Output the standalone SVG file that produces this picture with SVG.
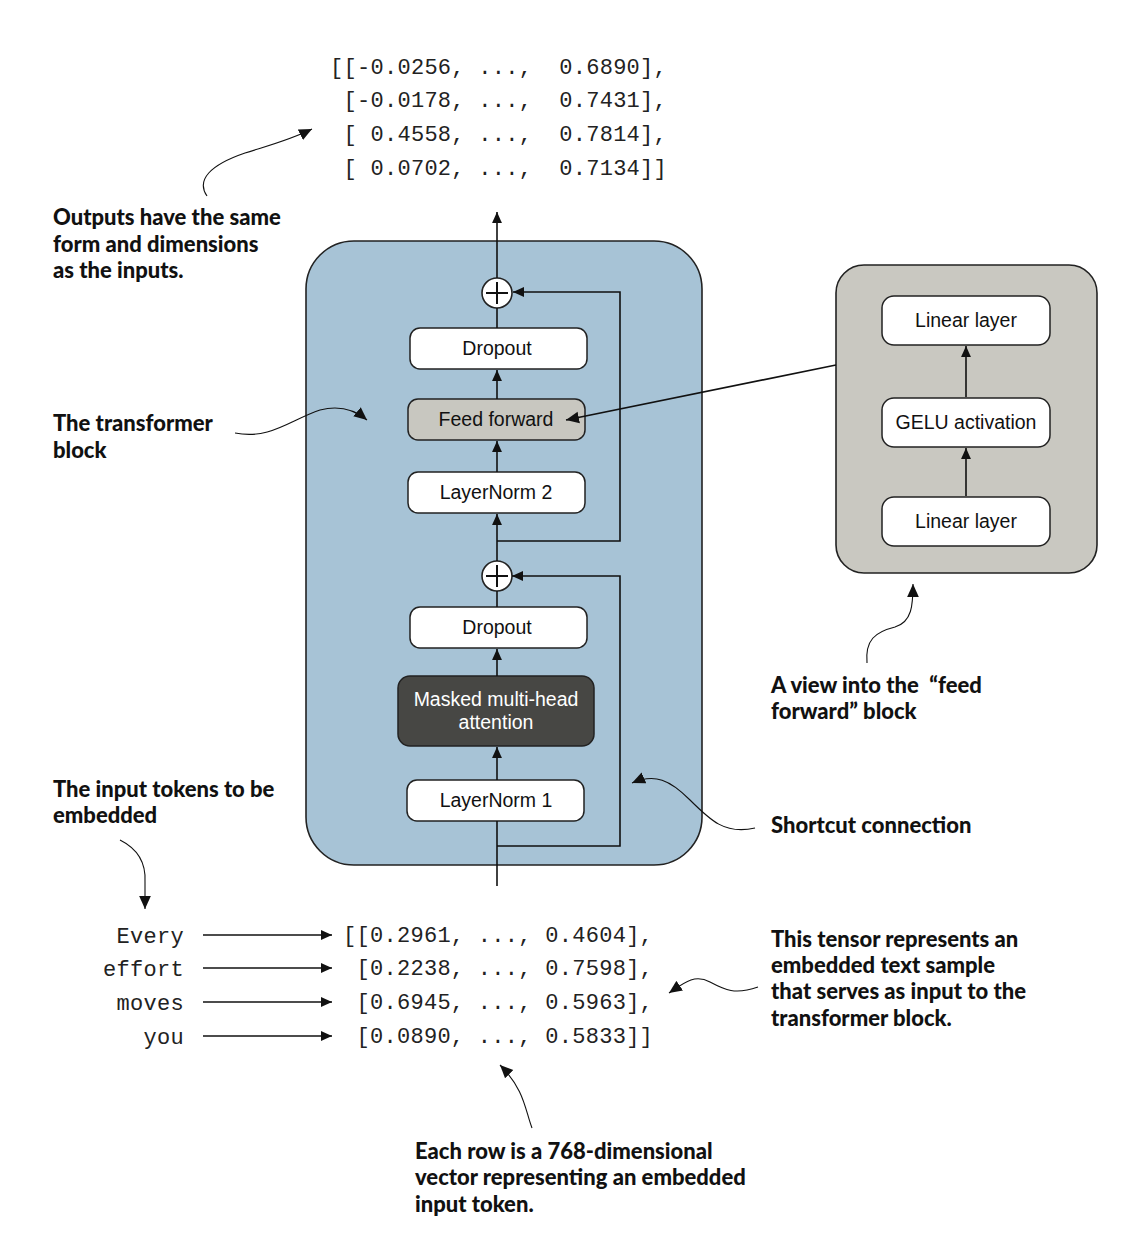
<svg xmlns="http://www.w3.org/2000/svg" width="1130" height="1244" viewBox="0 0 1130 1244">
<defs>
<marker id="ah" viewBox="0 0 10 10" refX="10" refY="5" markerWidth="11" markerHeight="11" markerUnits="userSpaceOnUse" orient="auto">
<path d="M0,0.5 L10,5 L0,9.5 Z" fill="#111"/>
</marker>
<marker id="ahs" viewBox="0 0 10 10" refX="10" refY="5" markerWidth="13" markerHeight="13" markerUnits="userSpaceOnUse" orient="auto">
<path d="M0,0.5 L10,5 L0,9.5 Z" fill="#111"/>
</marker>
</defs>
<style>
.box{fill:#fff;stroke:#222;stroke-width:1.5}
.lbl{font-family:"Liberation Sans",Arial,sans-serif;font-size:19.5px;fill:#111;text-anchor:middle}
.ann{font-family:Lato,"Open Sans",sans-serif;font-weight:900;font-size:22px;fill:#111}
.mono{font-family:"Liberation Mono","Courier New",monospace;font-size:22px;fill:#222;white-space:pre;letter-spacing:0.28px}
.ln{fill:none;stroke:#111;stroke-width:1.6}
.cv{fill:none;stroke:#111;stroke-width:1.1}
</style>
<rect width="1130" height="1244" fill="#fff"/>

<!-- output tensor -->
<g id="output-tensor">
<text class="mono" x="330" y="74" xml:space="preserve">[[-0.0256, ...,  0.6890],</text>
<text class="mono" x="330" y="107" xml:space="preserve"> [-0.0178, ...,  0.7431],</text>
<text class="mono" x="330" y="141" xml:space="preserve"> [ 0.4558, ...,  0.7814],</text>
<text class="mono" x="330" y="175" xml:space="preserve"> [ 0.0702, ...,  0.7134]]</text>
</g>

<!-- transformer block -->
<g id="transformer-block">
<rect x="306" y="241" width="396" height="624" rx="48" fill="#a7c3d6" stroke="#222" stroke-width="1.6"/>
</g>

<!-- feed forward detail -->
<g id="ff-detail">
<rect x="836" y="265" width="261" height="308" rx="28" fill="#c9c8c1" stroke="#222" stroke-width="1.6"/>
</g>

<g id="add-1">
<circle cx="497" cy="293" r="15" fill="#fff" stroke="#222" stroke-width="1.6"/>
<path d="M486,293 H508 M497,282 V304" stroke="#111" stroke-width="2"/>
</g>
<g id="dropout-1">
<rect class="box" x="410" y="328" width="177" height="41" rx="10"/>
<text class="lbl" x="497" y="355">Dropout</text>
</g>
<g id="feed-forward">
<rect x="408" y="399" width="177" height="41" rx="10" fill="#c8c7c0" stroke="#222" stroke-width="1.5"/>
<text class="lbl" x="496" y="426">Feed forward</text>
</g>
<g id="layernorm-2">
<rect class="box" x="408" y="472" width="177" height="41" rx="10"/>
<text class="lbl" x="496" y="499">LayerNorm 2</text>
</g>
<g id="add-2">
<circle cx="497" cy="576" r="15" fill="#fff" stroke="#222" stroke-width="1.6"/>
<path d="M486,576 H508 M497,565 V587" stroke="#111" stroke-width="2"/>
</g>
<g id="dropout-2">
<rect class="box" x="410" y="607" width="177" height="41" rx="10"/>
<text class="lbl" x="497" y="634">Dropout</text>
</g>
<g id="mha">
<rect x="398" y="676" width="196" height="70" rx="12" fill="#474744" stroke="#222" stroke-width="1.5"/>
<text class="lbl" x="496" y="706" style="fill:#fff">Masked multi-head</text>
<text class="lbl" x="496" y="729" style="fill:#fff">attention</text>
</g>
<g id="layernorm-1">
<rect class="box" x="407" y="780" width="177" height="41" rx="10"/>
<text class="lbl" x="496" y="807">LayerNorm 1</text>
</g>
<g id="linear-top">
<rect class="box" x="882" y="296" width="168" height="49" rx="12"/>
<text class="lbl" x="966" y="327">Linear layer</text>
</g>
<g id="gelu">
<rect class="box" x="882" y="398" width="168" height="49" rx="12"/>
<text class="lbl" x="966" y="429">GELU activation</text>
</g>
<g id="linear-bottom">
<rect class="box" x="882" y="497" width="168" height="49" rx="12"/>
<text class="lbl" x="966" y="528">Linear layer</text>
</g>

<!-- input tokens and tensor -->
<g id="input-tokens">
<text class="mono" x="184" y="943" text-anchor="end">Every</text>
<text class="mono" x="184" y="976" text-anchor="end">effort</text>
<text class="mono" x="184" y="1010" text-anchor="end">moves</text>
<text class="mono" x="184" y="1044" text-anchor="end">you</text>
</g>
<g id="input-tensor">
<text class="mono" x="343" y="942" xml:space="preserve">[[0.2961, ..., 0.4604],</text>
<text class="mono" x="343" y="975" xml:space="preserve"> [0.2238, ..., 0.7598],</text>
<text class="mono" x="343" y="1009" xml:space="preserve"> [0.6945, ..., 0.5963],</text>
<text class="mono" x="343" y="1043" xml:space="preserve"> [0.0890, ..., 0.5833]]</text>
</g>

<!-- connectors -->
<g id="connectors">
<line class="ln" x1="497" y1="278" x2="497" y2="212" marker-end="url(#ah)"/>
<line class="ln" x1="497" y1="328" x2="497" y2="308"/>
<line class="ln" x1="497" y1="399" x2="497" y2="370" marker-end="url(#ah)"/>
<line class="ln" x1="497" y1="472" x2="497" y2="441" marker-end="url(#ah)"/>
<line class="ln" x1="497" y1="561" x2="497" y2="514" marker-end="url(#ah)"/>
<line class="ln" x1="497" y1="607" x2="497" y2="591"/>
<line class="ln" x1="497" y1="676" x2="497" y2="649" marker-end="url(#ah)"/>
<line class="ln" x1="497" y1="780" x2="497" y2="747" marker-end="url(#ah)"/>
<line class="ln" x1="497" y1="886" x2="497" y2="821"/>
<polyline class="ln" points="497,541 620,541 620,292 513,292" marker-end="url(#ah)"/>
<polyline class="ln" points="497,846 620,846 620,576 512,576" marker-end="url(#ah)"/>
<line class="ln" x1="836" y1="365" x2="566" y2="420" marker-end="url(#ahs)"/>
<line class="ln" x1="966" y1="397" x2="966" y2="346" marker-end="url(#ah)"/>
<line class="ln" x1="966" y1="496" x2="966" y2="448" marker-end="url(#ah)"/>
<line class="ln" x1="203" y1="935" x2="332" y2="935" marker-end="url(#ah)"/>
<line class="ln" x1="203" y1="968" x2="332" y2="968" marker-end="url(#ah)"/>
<line class="ln" x1="203" y1="1002" x2="332" y2="1002" marker-end="url(#ah)"/>
<line class="ln" x1="203" y1="1036" x2="332" y2="1036" marker-end="url(#ah)"/>
<!-- annotation curves -->
<path class="cv" d="M207,196 C196,180 210,165 245,153 C270,145 290,140 312,129" marker-end="url(#ahs)"/>
<path class="cv" d="M235,433 C270,440 290,420 320,410 C340,405 355,410 367,420" marker-end="url(#ahs)"/>
<path class="cv" d="M120,840 C140,850 146,865 145,882 L145,909" marker-end="url(#ahs)"/>
<path class="cv" d="M758,987 C735,995 725,990 710,982 C695,974 685,982 669,993" marker-end="url(#ahs)"/>
<path class="cv" d="M532,1128 C525,1110 525,1090 500,1065" marker-end="url(#ahs)"/>
<path class="cv" d="M867,663 C865,640 875,632 895,627 C912,622 913,605 913,584" marker-end="url(#ahs)"/>
<path class="cv" d="M755,828 C725,835 710,820 690,800 C670,780 655,773 632,783" marker-end="url(#ahs)"/>
</g>

<!-- annotations -->
<g id="annotations">
<text class="ann" x="53" y="225">Outputs have the same</text>
<text class="ann" x="53" y="252">form and dimensions</text>
<text class="ann" x="53" y="278">as the inputs.</text>
<text class="ann" x="53" y="431">The transformer</text>
<text class="ann" x="53" y="458">block</text>
<text class="ann" x="53" y="797">The input tokens to be</text>
<text class="ann" x="53" y="823">embedded</text>
<text class="ann" x="771" y="693" xml:space="preserve">A view into the  “feed</text>
<text class="ann" x="771" y="719">forward” block</text>
<text class="ann" x="771" y="833">Shortcut connection</text>
<text class="ann" x="771" y="947">This tensor represents an</text>
<text class="ann" x="771" y="973">embedded text sample</text>
<text class="ann" x="771" y="999">that serves as input to the</text>
<text class="ann" x="771" y="1026">transformer block.</text>
<text class="ann" x="415" y="1159">Each row is a 768-dimensional</text>
<text class="ann" x="415" y="1185">vector representing an embedded</text>
<text class="ann" x="415" y="1212">input token.</text>
</g>
</svg>
